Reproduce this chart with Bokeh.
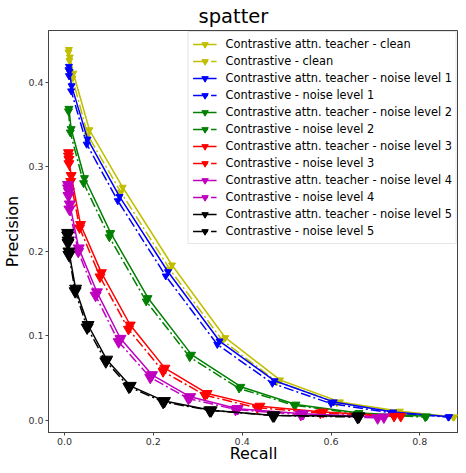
from bokeh.plotting import figure
from bokeh.models import Range1d, FixedTicker, NumeralTickFormatter, Legend, LegendItem
from bokeh.embed import file_html
from bokeh.resources import INLINE

# ---------------- data ----------------
labels = [
    "Contrastive attn. teacher - clean",
    "Contrastive - clean",
    "Contrastive attn. teacher - noise level 1",
    "Contrastive - noise level 1",
    "Contrastive attn. teacher - noise level 2",
    "Contrastive - noise level 2",
    "Contrastive attn. teacher - noise level 3",
    "Contrastive - noise level 3",
    "Contrastive attn. teacher - noise level 4",
    "Contrastive - noise level 4",
    "Contrastive attn. teacher - noise level 5",
    "Contrastive - noise level 5",
]

recall_teacher_clean = [0.010, 0.012, 0.020, 0.056, 0.131, 0.242, 0.362, 0.485, 0.620, 0.755, 0.877]
precision_teacher_clean = [0.439, 0.430, 0.411, 0.344, 0.276, 0.184, 0.098, 0.048, 0.022, 0.011, 0.004]
recall_contrastive_clean = [0.009, 0.011, 0.018, 0.052, 0.127, 0.237, 0.355, 0.478, 0.613, 0.748, 0.875]
precision_contrastive_clean = [0.436, 0.426, 0.405, 0.338, 0.270, 0.179, 0.095, 0.046, 0.021, 0.010, 0.004]

recall_teacher_n1 = [0.010, 0.011, 0.016, 0.052, 0.124, 0.233, 0.349, 0.473, 0.606, 0.740, 0.866]
precision_teacher_n1 = [0.419, 0.413, 0.396, 0.333, 0.265, 0.176, 0.094, 0.047, 0.022, 0.010, 0.0045]
recall_contrastive_n1 = [0.009, 0.010, 0.015, 0.050, 0.120, 0.228, 0.344, 0.468, 0.600, 0.735, 0.864]
precision_contrastive_n1 = [0.415, 0.408, 0.390, 0.327, 0.260, 0.171, 0.090, 0.044, 0.020, 0.009, 0.004]

recall_teacher_n2 = [0.010, 0.015, 0.045, 0.104, 0.188, 0.286, 0.397, 0.521, 0.663, 0.815]
precision_teacher_n2 = [0.369, 0.345, 0.287, 0.222, 0.145, 0.078, 0.040, 0.019, 0.009, 0.005]
recall_contrastive_n2 = [0.009, 0.013, 0.043, 0.101, 0.184, 0.282, 0.393, 0.517, 0.660, 0.812]
precision_contrastive_n2 = [0.366, 0.341, 0.281, 0.217, 0.141, 0.075, 0.038, 0.018, 0.008, 0.004]

recall_teacher_n3 = [0.009, 0.010, 0.015, 0.036, 0.083, 0.148, 0.226, 0.321, 0.440, 0.582, 0.757]
precision_teacher_n3 = [0.317, 0.309, 0.290, 0.232, 0.175, 0.113, 0.062, 0.032, 0.017, 0.010, 0.005]
recall_contrastive_n3 = [0.009, 0.010, 0.014, 0.034, 0.080, 0.144, 0.222, 0.316, 0.434, 0.576, 0.742]
precision_contrastive_n3 = [0.313, 0.304, 0.283, 0.228, 0.170, 0.108, 0.058, 0.030, 0.015, 0.009, 0.005]

recall_teacher_n4 = [0.008, 0.010, 0.012, 0.032, 0.073, 0.126, 0.197, 0.283, 0.390, 0.537, 0.719]
precision_teacher_n4 = [0.279, 0.271, 0.256, 0.204, 0.152, 0.097, 0.054, 0.028, 0.014, 0.008, 0.004]
recall_contrastive_n4 = [0.008, 0.009, 0.011, 0.031, 0.070, 0.122, 0.193, 0.279, 0.385, 0.532, 0.705]
precision_contrastive_n4 = [0.275, 0.266, 0.250, 0.200, 0.148, 0.093, 0.051, 0.026, 0.013, 0.007, 0.003]

recall_teacher_n5 = [0.007, 0.008, 0.010, 0.025, 0.053, 0.095, 0.148, 0.225, 0.330, 0.472, 0.663]
precision_teacher_n5 = [0.222, 0.213, 0.200, 0.156, 0.113, 0.072, 0.041, 0.023, 0.012, 0.006, 0.005]
recall_contrastive_n5 = [0.007, 0.008, 0.010, 0.024, 0.051, 0.093, 0.145, 0.222, 0.327, 0.469, 0.660]
precision_contrastive_n5 = [0.219, 0.210, 0.196, 0.153, 0.110, 0.070, 0.040, 0.022, 0.012, 0.006, 0.004]

x_ticks = [0.0, 0.2, 0.4, 0.6, 0.8]
y_ticks = [0.0, 0.1, 0.2, 0.3, 0.4]

series = [
    (recall_teacher_clean, precision_teacher_clean),
    (recall_contrastive_clean, precision_contrastive_clean),
    (recall_teacher_n1, precision_teacher_n1),
    (recall_contrastive_n1, precision_contrastive_n1),
    (recall_teacher_n2, precision_teacher_n2),
    (recall_contrastive_n2, precision_contrastive_n2),
    (recall_teacher_n3, precision_teacher_n3),
    (recall_contrastive_n3, precision_contrastive_n3),
    (recall_teacher_n4, precision_teacher_n4),
    (recall_contrastive_n4, precision_contrastive_n4),
    (recall_teacher_n5, precision_teacher_n5),
    (recall_contrastive_n5, precision_contrastive_n5),
]

# ---------------- style ----------------
colors = ["#bfbf00", "#bfbf00", "#0000ff", "#0000ff", "#008000", "#008000",
          "#ff0000", "#ff0000", "#bf00bf", "#bf00bf", "#000000", "#000000"]
dashes = ["solid", "10 3 2 3"] * 6
msizes = [7, 7, 7, 7, 8, 8, 10, 10, 11, 11, 12, 12]

p = figure(width=458, height=465, output_backend="svg", toolbar_location=None,
           x_range=Range1d(-0.036, 0.887), y_range=Range1d(-0.0142, 0.4615),
           min_border_left=48, min_border_right=0, min_border_top=0, min_border_bottom=0)

p.title.text = "spatter"
p.title.align = "left"
p.title.offset = 150
p.title.standoff = 5
p.title.text_font = "DejaVu Sans"
p.title.text_font_size = "19.5px"
p.title.text_font_style = "normal"
p.title.text_color = "#000000"

p.grid.visible = False
p.outline_line_color = "#444444"
p.outline_line_width = 1

for ax in (p.xaxis[0], p.yaxis[0]):
    ax.major_label_text_font = "DejaVu Sans"
    ax.major_label_text_font_size = "9.5px"
    ax.major_label_text_color = "#333333"
    ax.axis_label_text_font = "DejaVu Sans"
    ax.axis_label_text_font_size = "16px"
    ax.axis_label_text_font_style = "normal"
    ax.axis_label_text_color = "#000000"
    ax.axis_line_color = "#444444"
    ax.major_tick_line_color = "#444444"
    ax.minor_tick_line_color = None
    ax.major_tick_out = 3
    ax.major_tick_in = 0
    ax.major_label_standoff = 2
    ax.formatter = NumeralTickFormatter(format="0.0")

p.xaxis[0].axis_label_standoff = -4
p.yaxis[0].axis_label_standoff = 3
p.xaxis[0].ticker = FixedTicker(ticks=x_ticks)
p.yaxis[0].ticker = FixedTicker(ticks=y_ticks)
p.xaxis[0].axis_label = "Recall"
p.yaxis[0].axis_label = "Precision"

items = []
for (xs, ys), lab, c, d, ms in zip(series, labels, colors, dashes, msizes):
    r1 = p.line(xs, ys, line_color=c, line_width=1.5, line_dash=d)
    r2 = p.scatter(xs, ys, marker="inverted_triangle", size=ms, fill_color=c, line_color=c)
    items.append(LegendItem(label=lab, renderers=[r1, r2]))

legend = Legend(items=items, location="top_right")
legend.label_text_font = "DejaVu Sans"
legend.label_text_font_size = "11.4px"
legend.label_text_color = "#000000"
legend.label_height = 16
legend.glyph_height = 16
legend.glyph_width = 24
legend.label_standoff = 9
legend.spacing = 1
legend.padding = 4
legend.margin = 1
legend.border_line_color = "#cccccc"
legend.border_line_width = 1
legend.background_fill_alpha = 0.85
p.add_layout(legend, "center")

open("out.html", "w").write(file_html(p, INLINE))
